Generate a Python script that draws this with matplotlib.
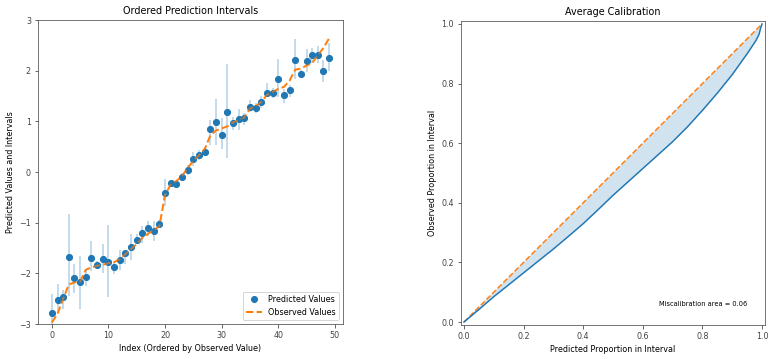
import numpy as np
import matplotlib
matplotlib.use('Agg')
import matplotlib.pyplot as plt

# ordered prediction intervals (sorted by observed value)
y_pred = [-2.79, -2.53, -2.47, -1.67, -2.10, -2.17, -2.07, -1.69, -1.84, -1.71,
          -1.77, -1.88, -1.73, -1.59, -1.48, -1.35, -1.21, -1.10, -1.17, -1.02,
          -0.41, -0.22, -0.23, -0.10, 0.04, 0.25, 0.34, 0.39, 0.85, 0.98,
          0.74, 1.19, 0.96, 1.04, 1.06, 1.29, 1.26, 1.38, 1.56, 1.55,
          1.84, 1.51, 1.61, 2.22, 1.94, 2.20, 2.30, 2.31, 2.00, 2.25]
y_true = [-2.97, -2.80, -2.50, -2.22, -2.18, -2.16, -1.93, -1.88, -1.85, -1.83,
          -1.80, -1.78, -1.72, -1.62, -1.52, -1.42, -1.30, -1.22, -1.15, -1.07,
          -0.45, -0.25, -0.18, -0.08, 0.08, 0.22, 0.33, 0.45, 0.72, 0.82,
          0.86, 0.90, 0.98, 1.02, 1.08, 1.25, 1.30, 1.38, 1.52, 1.58,
          1.64, 1.68, 1.80, 2.02, 2.04, 2.10, 2.15, 2.30, 2.45, 2.64]
upper = [-2.40, -2.21, -2.32, -0.82, -1.81, -1.65, -1.93, -1.37, -1.76, -1.43,
         -1.05, -1.76, -1.53, -1.55, -1.23, -1.22, -1.07, -0.97, -0.97, -0.94,
         -0.13, -0.16, -0.19, -0.01, 0.14, 0.39, 0.44, 0.47, 1.03, 1.44,
         1.06, 2.13, 1.09, 1.24, 1.17, 1.42, 1.36, 1.50, 1.75, 1.65,
         2.24, 1.63, 1.72, 2.63, 2.01, 2.43, 2.45, 2.49, 2.21, 2.54]
lower = [-3.10, -2.78, -2.71, -2.45, -2.38, -2.71, -2.25, -1.96, -1.92, -1.99,
         -2.46, -2.02, -1.94, -1.82, -1.73, -1.42, -1.40, -1.27, -1.37, -1.10,
         -0.68, -0.27, -0.30, -0.18, -0.05, 0.11, 0.24, 0.31, 0.54, 0.54,
         0.45, 0.28, 0.83, 0.83, 0.93, 1.19, 1.17, 1.26, 1.50, 1.46,
         1.48, 1.37, 1.49, 1.83, 1.88, 1.98, 2.15, 2.15, 1.78, 2.00]

# average calibration curve
exp_prop = [0.0, 0.05, 0.1, 0.15, 0.2, 0.25, 0.3, 0.35, 0.4, 0.45, 0.5, 0.55,
            0.6, 0.65, 0.7, 0.75, 0.8, 0.85, 0.9, 0.95, 0.98, 0.99, 0.995, 1.0]
obs_prop = [0.0, 0.042, 0.085, 0.125, 0.165, 0.205, 0.245, 0.287, 0.33, 0.377,
            0.425, 0.47, 0.515, 0.56, 0.605, 0.655, 0.71, 0.768, 0.83, 0.9,
            0.945, 0.965, 0.985, 1.0]
miscal_area = 0.06

plt.rcParams['font.size'] = 8
plt.rcParams['axes.edgecolor'] = '#555555'
plt.rcParams['xtick.color'] = '#444444'
plt.rcParams['ytick.color'] = '#444444'

xs = np.arange(len(y_pred))
y_pred = np.array(y_pred)
yerr = [y_pred - np.array(lower), np.array(upper) - y_pred]

fig = plt.figure(figsize=(775 / 72, 359 / 72), dpi=72)
ax1 = fig.add_axes([38 / 775, 35 / 359, 305 / 775, 304 / 359])
ax2 = fig.add_axes([461 / 775, 34 / 359, 304 / 775, 304 / 359])

ax1.errorbar(xs, y_pred, yerr, fmt='o', ls='none', linewidth=1.5,
             c='#1f77b4', alpha=0.35)
h1 = ax1.plot(xs, y_pred, 'o', c='#1f77b4')
h2 = ax1.plot(xs, y_true, '--', linewidth=2.0, c='#ff7f0e')
ax1.legend([h1[0], h2[0]], ['Predicted Values', 'Observed Values'], loc=4)
ax1.set_ylim(-3, 3)
ax1.set_xlabel('Index (Ordered by Observed Value)')
ax1.set_ylabel('Predicted Values and Intervals')
ax1.set_title('Ordered Prediction Intervals')

ax2.plot([0, 1], [0, 1], '--', c='#ff7f0e')
ax2.plot(exp_prop, obs_prop, c='#1f77b4')
ax2.fill_between(exp_prop, exp_prop, obs_prop, alpha=0.2)
buff = 0.01
ax2.set_xlim(0 - buff, 1 + buff)
ax2.set_ylim(0 - buff, 1 + buff)
ax2.set_xlabel('Predicted Proportion in Interval')
ax2.set_ylabel('Observed Proportion in Interval')
ax2.set_title('Average Calibration')
ax2.text(0.95, 0.05, 'Miscalibration area = %.2f' % miscal_area,
         verticalalignment='bottom', horizontalalignment='right',
         fontsize='small')

fig.savefig('out.png', dpi=72)
